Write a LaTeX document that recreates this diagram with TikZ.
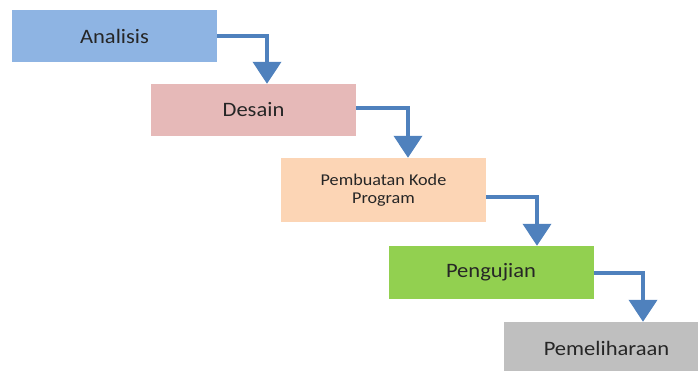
\documentclass[tikz,border=0pt]{standalone}
\usepackage{fontspec}
\setmainfont{Carlito}[FakeStretch=1.1]
\usepackage{tikz}
\usetikzlibrary{arrows.meta, positioning}
\definecolor{stepblue}{HTML}{8EB4E3}
\definecolor{steppink}{HTML}{E6B9B8}
\definecolor{steppeach}{HTML}{FCD5B5}
\definecolor{stepgreen}{HTML}{92D050}
\definecolor{stepgrey}{HTML}{BFBFBF}
\definecolor{flowblue}{HTML}{4F81BD}
\definecolor{inktext}{HTML}{262626}

\begin{document}
\begin{tikzpicture}[
  x=1pt, y=-1pt,
  phase/.style={fill=#1, draw=none, minimum width=205pt, minimum height=52pt, inner sep=0pt,
    align=center, text=inktext, font=\fontsize{20.5}{24}\selectfont},
  flow/.style={draw=flowblue, line width=4pt, -{Triangle[width=28pt, length=22pt]}},
]
  \useasboundingbox (0,0) rectangle (698,371);
  \node[phase=stepblue] (anl) at (114.5, 36) {Analisis};
  \node[phase=steppink] (des) at (253.5, 110) {Desain};
  \node[phase=steppeach, minimum height=64pt, font=\fontsize{16.5}{18.5}\selectfont] (prog) at (383.5, 190) {Pembuatan Kode\\Program};
  \node[phase=stepgreen, minimum height=53pt] (uji) at (491, 272.5) {Pengujian};
  \node[phase=stepgrey] (pml) at (606.5, 348) {Pemeliharaan};

  \draw[flow] (anl.east) -| ([xshift=13.5pt]des.north);
  \draw[flow] ([yshift=2pt]des.east) -| ([xshift=24.5pt]prog.north);
  \draw[flow] ([yshift=-7pt]prog.east) -| ([xshift=46pt]uji.north);
  \draw[flow] (uji.east) -| ([xshift=36.5pt]pml.north);
\end{tikzpicture}
\end{document}
